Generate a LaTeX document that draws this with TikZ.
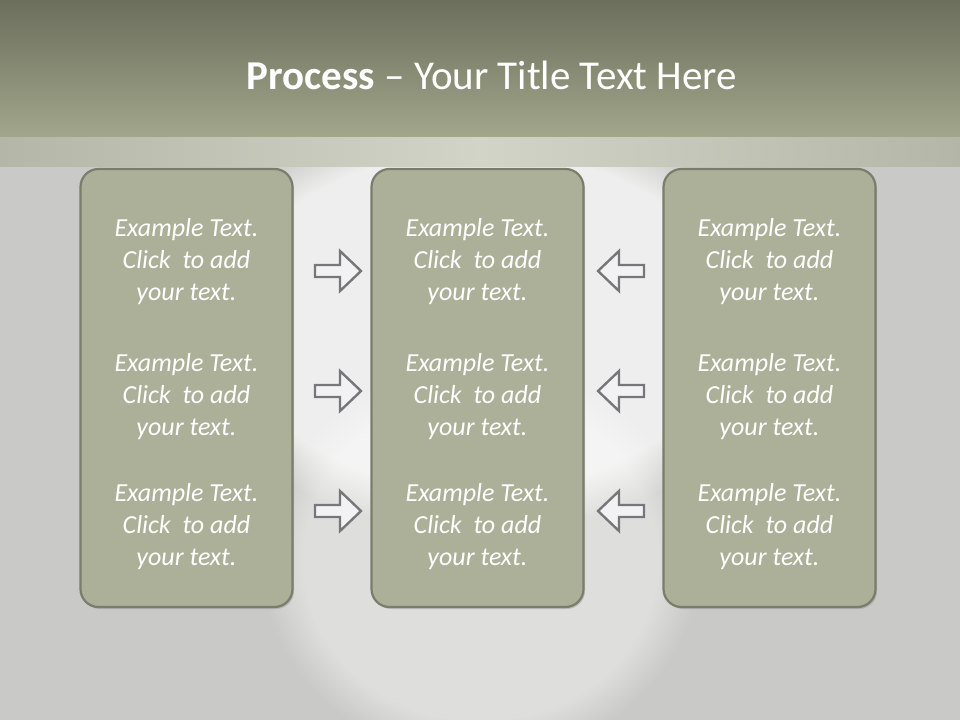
\documentclass[tikz,border=0pt]{standalone}
\usepackage{fontspec}
\setmainfont{Carlito}
\usetikzlibrary{shadows,fadings}
\definecolor{bggray}{HTML}{C9C9C7}
\definecolor{bartop}{HTML}{6B6F5C}
\definecolor{barbot}{HTML}{A2A68B}
\definecolor{bandside}{HTML}{B4B6A7}
\definecolor{bandmid}{HTML}{D2D4C8}
\definecolor{boxfill}{HTML}{ADB098}
\definecolor{boxline}{HTML}{7B7D6C}
\definecolor{arrline}{HTML}{77777A}
\definecolor{arrfill}{HTML}{F2F2F4}
\definecolor{txt}{HTML}{FFFFFF}
\tikzset{
  panel/.style={draw=boxline, line width=2.2pt, fill=boxfill, rounded corners=18pt,
    minimum width=212pt, minimum height=438pt, inner sep=0pt,
    drop shadow={shadow xshift=1.5pt, shadow yshift=-2pt, opacity=0.35}},
  itext/.style={text=txt, font=\fontsize{26}{32}\selectfont\itshape, align=center, inner sep=0pt},
  blockarrow/.style={draw=arrline, line width=2.4pt, fill=arrfill, line join=miter}
}
\newcommand{\exampletext}{Example Text.\\Click\ \ to add\\your text.}
\begin{document}
\begin{tikzpicture}[x=1pt,y=-1pt]
\useasboundingbox (0,0) rectangle (960,720);
% background
\fill[bggray] (0,0) rectangle (960,720);
\fill[white, opacity=0.7, path fading=circle with fuzzy edge 20 percent] (480,320) ellipse (310 and 210);
\fill[white, opacity=0.4, path fading=circle with fuzzy edge 20 percent] (480,560) ellipse (220 and 200);
% title bar
\shade[top color=bartop, bottom color=barbot] (0,0) rectangle (960,137);
\shade[left color=bandside, right color=bandside, middle color=bandmid] (0,137) rectangle (960,166);
\node[text=white, font=\fontsize{41}{46}\selectfont, anchor=center] (title) at (492,75)
  {\textbf{Process} -- Your Title Text Here};
% panels
\node[panel] (left) at (186.5,388) {};
\node[panel] (mid) at (477.5,388) {};
\node[panel] (right) at (769.5,388) {};
% texts
\foreach \cx/\nm in {186.5/l,477.5/m,769.5/r}{
  \foreach \cy/\k in {262/1,397/2,527/3}{
    \node[itext] (t\nm\k) at (\cx,\cy) {\exampletext};
  }
}
% arrows
\foreach \cy/\k in {271/1,391/2,511/3}{
  \coordinate (ra\k) at (338,\cy);
  \coordinate (la\k) at (621,\cy);
  \draw[blockarrow] ([shift={(-23,-6)}]ra\k) -- ([shift={(2,-6)}]ra\k) -- ([shift={(2,-20)}]ra\k)
     -- ([shift={(23,0)}]ra\k) -- ([shift={(2,20)}]ra\k) -- ([shift={(2,6)}]ra\k)
     -- ([shift={(-23,6)}]ra\k) -- cycle;
  \draw[blockarrow] ([shift={(23,-6)}]la\k) -- ([shift={(-2,-6)}]la\k) -- ([shift={(-2,-20)}]la\k)
     -- ([shift={(-23,0)}]la\k) -- ([shift={(-2,20)}]la\k) -- ([shift={(-2,6)}]la\k)
     -- ([shift={(23,6)}]la\k) -- cycle;
}
\end{tikzpicture}
\end{document}
